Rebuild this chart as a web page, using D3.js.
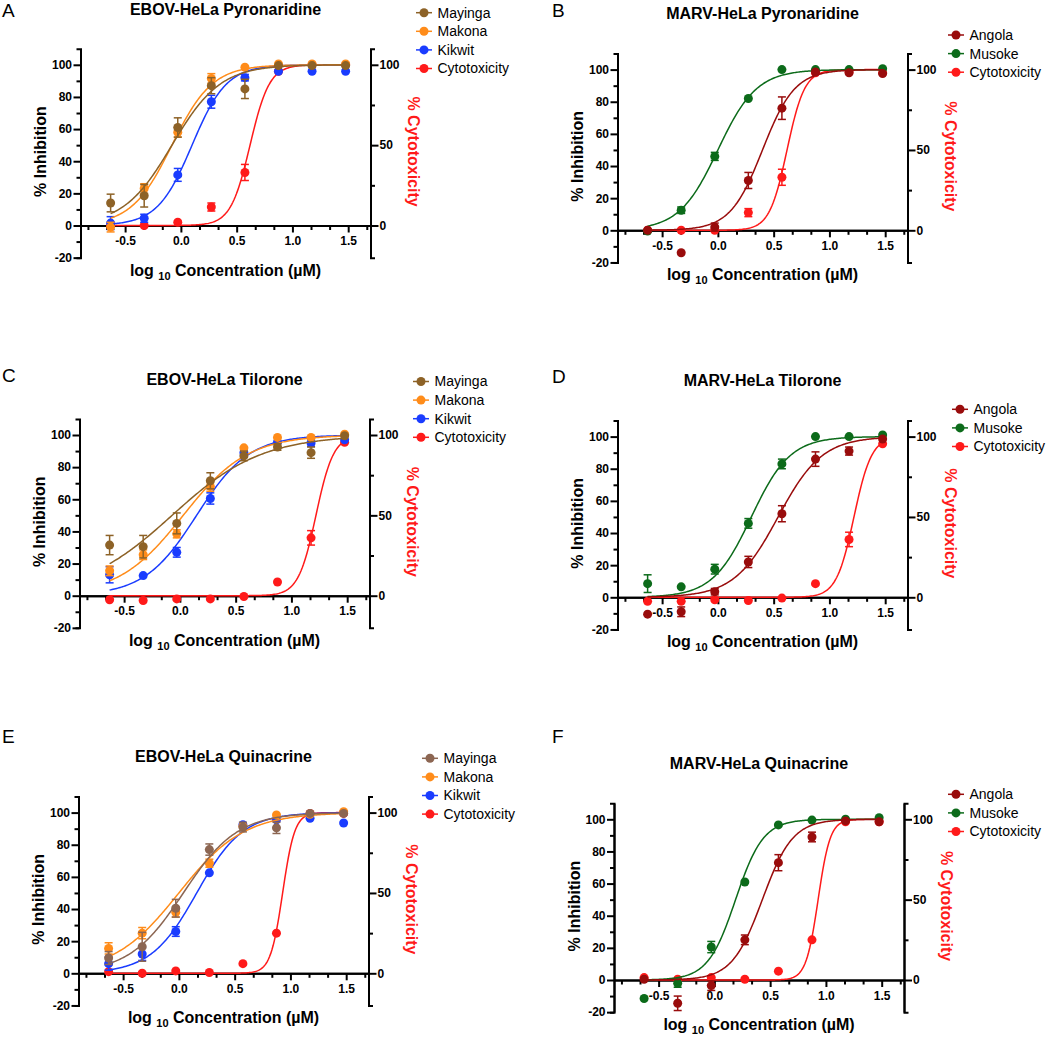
<!DOCTYPE html>
<html>
<head>
<meta charset="utf-8">
<script src="https://cdn.jsdelivr.net/npm/d3@7"></script>
<style>
  body { margin: 0; background: #fff; }
  svg { display: block; }
  text { font-family: "Liberation Sans", Arial, Helvetica, sans-serif; }
</style>
</head>
<body>
<div id="chart"></div>
<script>
// log10 concentration (uM), same dilution series in every panel
var logConc = [-0.630, -0.329, -0.028, 0.273, 0.574, 0.875, 1.176, 1.477];

// ---- A: EBOV-HeLa Pyronaridine
var aMayinga = [14, 18.5, 61, 87, 85, 99.5, 99.5, 99.5];
var aMayingaErr = [5.5, 7, 6, 5, 6, 0, 0, 0];
var aMakona = [-1, 23, 58, 91.5, 98.5, 100.5, 100.5, 100.5];
var aMakonaErr = [3, 3, 3, 3, 0, 0, 0, 0];
var aKikwit = [1.5, 4.5, 31.5, 77, 92, 96, 96, 96];
var aKikwitErr = [4, 2.5, 4, 4, 2, 0, 0, 0];
var aCyto = [0, 0, 2, 11.5, 33, 96, 100, 100];
var aCytoErr = [0, 0, 0, 2.5, 5, 0, 0, 0];
// fitted curves: [logIC50, hill slope]
var aFitMayinga = [-0.08, 2.0], aFitMakona = [-0.08, 2.4], aFitKikwit = [0.10, 2.8], aFitCyto = [0.62, 5.0];

// ---- B: MARV-HeLa Pyronaridine
var bAngola = [0, -14, 2, 31, 76, 98.5, 98, 97.5];
var bAngolaErr = [0, 0, 2.5, 5, 7, 0, 0, 0];
var bMusoke = [-0.5, 12.5, 46, 82, 100, 100, 100, 100.5];
var bMusokeErr = [0, 2, 2.5, 0, 0, 0, 0, 0];
var bCyto = [0, 0, 0, 11, 33, 98, 98.5, 98];
var bCytoErr = [0, 0, 0, 2.5, 5, 0, 0, 0];
var bFitAngola = [0.40, 3.0], bFitMusoke = [0.00, 2.5], bFitCyto = [0.62, 5.5];

// ---- C: EBOV-HeLa Tilorone
var cMayinga = [31.5, 30.5, 45, 71.5, 87, 92.5, 89, 99.5];
var cMayingaErr = [6, 7, 6.5, 5, 3, 2, 3.5, 0];
var cMakona = [15.5, 25.5, 38.5, 68, 92, 98.5, 98.5, 100.5];
var cMakonaErr = [3, 3, 2.5, 3, 0, 0, 0, 0];
var cKikwit = [13, 12.5, 27, 60.5, 89, 95.5, 95, 97];
var cKikwitErr = [5, 0, 3, 3.5, 2, 0, 2, 0];
var cCyto = [-2.5, -3, -2, -2, -0.5, 8.5, 36, 95.5];
var cCytoErr = [0, 0, 0, 0, 0, 0, 4.5, 0];
var cFitMayinga = [-0.07, 1.08], cFitMakona = [0.03, 1.5], cFitKikwit = [0.15, 1.85], cFitCyto = [1.22, 5.5];

// ---- D: MARV-HeLa Tilorone
var dAngola = [-10.5, -9, 3.5, 22, 52, 86, 91, 98.5];
var dAngolaErr = [0, 3, 2, 3.5, 5, 4.5, 2.5, 0];
var dMusoke = [8.5, 6.5, 17.5, 46, 83, 100, 100, 101];
var dMusokeErr = [5.5, 0, 3, 3, 3, 0, 0, 0];
var dCyto = [-2.5, -2.5, -1.5, -2, -0.5, 8.5, 36, 95.5];
var dCytoErr = [0, 0, 0, 0, 0, 0, 4.5, 0];
var dFitAngola = [0.54, 2.2], dFitMusoke = [0.30, 2.5], dFitCyto = [1.22, 5.5];

// ---- E: EBOV-HeLa Quinacrine
var eMayinga = [9.5, 16.5, 40.5, 77, 91, 90.5, 99.5, 99.5];
var eMayingaErr = [4, 9, 5.5, 3.5, 3, 3.5, 0, 0];
var eMakona = [15.5, 25, 38, 68.5, 91.5, 98.5, 99, 100.5];
var eMakonaErr = [3.5, 3.5, 3, 2.5, 0, 0, 0, 0];
var eKikwit = [6, 12, 26, 62.5, 92.5, 95.5, 96.5, 93.5];
var eKikwitErr = [4, 4, 3, 0, 0, 0, 0, 0];
var eCyto = [1, 0, 1.5, 0.5, 6, 25, 99.5, 99.5];
var eCytoErr = [0, 0, 0, 0, 0, 0, 0, 0];
var eFitMayinga = [0.04, 1.79], eFitMakona = [0.00, 1.49], eFitKikwit = [0.16, 2.11], eFitCyto = [0.93, 8.0];

// ---- F: MARV-HeLa Quinacrine
var fAngola = [0.5, -14.5, -3.5, 25, 73, 89, 99, 98.5];
var fAngolaErr = [0, 4.5, 3, 3, 5, 3, 0, 0];
var fMusoke = [-11.5, -2, 20.5, 61, 96.5, 99.5, 100, 101];
var fMusokeErr = [0, 2.5, 3.5, 0, 0, 0, 0, 0];
var fCyto = [1.5, 0.5, 1.5, 0.5, 5.5, 25, 98.5, 98.5];
var fCytoErr = [0, 0, 0, 0, 0, 0, 0, 0];
var fFitAngola = [0.43, 3.2], fFitMusoke = [0.19, 3.5], fFitCyto = [0.93, 8.0];

// colours
var cMay = "#8d6227", cMayQ = "#8c6652", cMak = "#ff8c1a", cKik = "#1a3cff",
    cTox = "#ff1a1a", cAng = "#990c0c", cMus = "#0c6b1a";

var xTicks = [-0.5, 0, 0.5, 1.0, 1.5];
var yTicks = [-20, 0, 20, 40, 60, 80, 100];
var y2Ticks = [0, 50, 100];

var svgWidth = 1050, svgHeight = 1039;
var plotW = 290;      // width of one plot frame
var unit = 1.607;     // px per % on the y axes

var svg = d3.select("#chart").append("svg")
  .attr("width", svgWidth)
  .attr("height", svgHeight);

function s(name, color, v, e, fit) { return {name: name, color: color, v: v, e: e, fit: fit}; }

var panels = [
  {letter: "A", lx: 2, ly: 17, title: "EBOV-HeLa Pyronaridine", left: 80.5, y0: 225.5, legX: 424, legY: 12.7,
   series: [s("Mayinga", cMay, aMayinga, aMayingaErr, aFitMayinga), s("Makona", cMak, aMakona, aMakonaErr, aFitMakona),
            s("Kikwit", cKik, aKikwit, aKikwitErr, aFitKikwit), s("Cytotoxicity", cTox, aCyto, aCytoErr, aFitCyto)]},
  {letter: "B", lx: 552, ly: 17, title: "MARV-HeLa Pyronaridine", left: 617.5, y0: 230.3, legX: 956, legY: 35,
   series: [s("Angola", cAng, bAngola, bAngolaErr, bFitAngola), s("Musoke", cMus, bMusoke, bMusokeErr, bFitMusoke),
            s("Cytotoxicity", cTox, bCyto, bCytoErr, bFitCyto)]},
  {letter: "C", lx: 2, ly: 381.5, title: "EBOV-HeLa Tilorone", left: 79.5, y0: 595.7, legX: 421, legY: 381.5,
   series: [s("Mayinga", cMay, cMayinga, cMayingaErr, cFitMayinga), s("Makona", cMak, cMakona, cMakonaErr, cFitMakona),
            s("Kikwit", cKik, cKikwit, cKikwitErr, cFitKikwit), s("Cytotoxicity", cTox, cCyto, cCytoErr, cFitCyto)]},
  {letter: "D", lx: 552, ly: 382.5, title: "MARV-HeLa Tilorone", left: 617.5, y0: 597.3, legX: 960, legY: 409.3,
   series: [s("Angola", cAng, dAngola, dAngolaErr, dFitAngola), s("Musoke", cMus, dMusoke, dMusokeErr, dFitMusoke),
            s("Cytotoxicity", cTox, dCyto, dCytoErr, dFitCyto)]},
  {letter: "E", lx: 2, ly: 742.5, title: "EBOV-HeLa Quinacrine", left: 78.5, y0: 973.3, legX: 430, legY: 758.3,
   series: [s("Mayinga", cMayQ, eMayinga, eMayingaErr, eFitMayinga), s("Makona", cMak, eMakona, eMakonaErr, eFitMakona),
            s("Kikwit", cKik, eKikwit, eKikwitErr, eFitKikwit), s("Cytotoxicity", cTox, eCyto, eCytoErr, eFitCyto)]},
  {letter: "F", lx: 552, ly: 743, title: "MARV-HeLa Quinacrine", left: 614, y0: 980, legX: 956, legY: 794.3,
   series: [s("Angola", cAng, fAngola, fAngolaErr, fFitAngola), s("Musoke", cMus, fMusoke, fMusokeErr, fFitMusoke),
            s("Cytotoxicity", cTox, fCyto, fCytoErr, fFitCyto)]}
];

// 4PL fit with bottom 0 / top 100
function hill(fit, xv) { return 100 / (1 + Math.pow(10, (fit[0] - xv) * fit[1])); }

function styleAxis(sel) {
  sel.selectAll("path, line").attr("stroke", "#000").attr("stroke-width", 2);
  sel.selectAll("text").attr("fill", "#000").style("font-size", "12px").style("font-weight", "bold");
}

function drawPanel(p) {
  var right = p.left + plotW;
  var x = d3.scaleLinear().domain([-0.9, 1.7]).range([p.left, right]);
  var y = d3.scaleLinear().domain([-20, 110]).range([p.y0 + 20 * unit, p.y0 - 110 * unit]);
  var g = svg.append("g");

  // panel letter + title
  g.append("text").attr("x", p.lx).attr("y", p.ly).style("font-size", "19px").text(p.letter);
  g.append("text").attr("x", p.left + plotW / 2).attr("y", p.y0 - 211)
    .attr("text-anchor", "middle").style("font-size", "16px").style("font-weight", "bold").text(p.title);

  // left axis (major + minor)
  g.append("g").attr("transform", `translate(${p.left},0)`)
    .call(d3.axisLeft(y).tickValues([-10, 10, 30, 50, 70, 90]).tickSize(4).tickFormat(""))
    .call(styleAxis);
  g.append("g").attr("transform", `translate(${p.left},0)`)
    .call(d3.axisLeft(y).tickValues(yTicks).tickSize(7).tickSizeOuter(0).tickPadding(1.5).tickFormat(d => String(d)))
    .call(styleAxis);

  // right axis (% cytotoxicity)
  g.append("g").attr("transform", `translate(${right},0)`)
    .call(d3.axisRight(y).tickValues([25, 75]).tickSize(4.5).tickFormat(""))
    .call(styleAxis);
  g.append("g").attr("transform", `translate(${right},0)`)
    .call(d3.axisRight(y).tickValues(y2Ticks).tickSize(8).tickSizeOuter(0).tickPadding(1).tickFormat(d => String(d)))
    .call(styleAxis);

  // x axis along y = 0
  var minorX = d3.range(-5, 11).filter(i => i % 3 != 0).map(i => i / 6);
  g.append("g").attr("transform", `translate(0,${y(0)})`)
    .call(d3.axisBottom(x).tickValues(minorX).tickSize(4.5).tickSizeOuter(0).tickFormat(""))
    .call(styleAxis);
  g.append("g").attr("transform", `translate(0,${y(0)})`)
    .call(d3.axisBottom(x).tickValues(xTicks).tickSize(7).tickSizeOuter(0).tickPadding(4).tickFormat(d => d.toFixed(1)))
    .call(styleAxis);

  // axis titles
  var yMid = y(46);
  g.append("text").attr("transform", `translate(${p.left - 40},${yMid}) rotate(-90)`)
    .attr("text-anchor", "middle").attr("dy", "0.35em")
    .style("font-size", "16px").style("font-weight", "bold").text("% Inhibition");
  g.append("text").attr("transform", `translate(${right + 43},${yMid}) rotate(90)`)
    .attr("text-anchor", "middle").attr("dy", "0.35em").attr("fill", cTox)
    .style("font-size", "16px").style("font-weight", "bold").text("% Cytotoxicity");
  var xl = g.append("text").attr("x", p.left + plotW / 2).attr("y", p.y0 + 50)
    .attr("text-anchor", "middle").style("font-size", "16px").style("font-weight", "bold");
  xl.append("tspan").text("log ");
  xl.append("tspan").attr("dy", 4).style("font-size", "11px").text("10");
  xl.append("tspan").attr("dy", -4).text(" Concentration (\u00b5M)");

  // series: cytotoxicity drawn first, first legend entry on top
  var line = d3.line().x(d => x(d[0])).y(d => y(d[1]));
  var xs = d3.range(0, 201).map(i => logConc[0] + (logConc[7] - logConc[0]) * i / 200);
  p.series.slice().reverse().forEach(function(sr) {
    var sg = g.append("g");
    sg.append("path").attr("d", line(xs.map(xv => [xv, hill(sr.fit, xv)])))
      .attr("fill", "none").attr("stroke", sr.color).attr("stroke-width", 1.5);
    var pts = logConc.map((c, i) => ({c: c, v: sr.v[i], e: sr.e[i]}));
    var eb = sg.selectAll("g.eb").data(pts.filter(d => d.e > 0)).enter().append("g")
      .attr("stroke", sr.color).attr("stroke-width", 1.5);
    eb.append("line").attr("x1", d => x(d.c)).attr("x2", d => x(d.c))
      .attr("y1", d => y(d.v - d.e)).attr("y2", d => y(d.v + d.e));
    eb.append("line").attr("x1", d => x(d.c) - 4).attr("x2", d => x(d.c) + 4)
      .attr("y1", d => y(d.v + d.e)).attr("y2", d => y(d.v + d.e));
    eb.append("line").attr("x1", d => x(d.c) - 4).attr("x2", d => x(d.c) + 4)
      .attr("y1", d => y(d.v - d.e)).attr("y2", d => y(d.v - d.e));
    sg.selectAll("circle").data(pts).enter().append("circle")
      .attr("cx", d => x(d.c)).attr("cy", d => y(d.v)).attr("r", 4.5).attr("fill", sr.color);
  });

  // legend
  var gap = 18.6;
  p.series.forEach(function(sr, i) {
    var ly = p.legY + i * gap;
    g.append("line").attr("x1", p.legX - 8).attr("x2", p.legX + 8).attr("y1", ly).attr("y2", ly)
      .attr("stroke", sr.color).attr("stroke-width", 1.5);
    g.append("circle").attr("cx", p.legX).attr("cy", ly).attr("r", 4.5).attr("fill", sr.color);
    g.append("text").attr("x", p.legX + 13.5).attr("y", ly).attr("dy", "0.35em")
      .style("font-size", "14px").text(sr.name);
  });
}

panels.forEach(drawPanel);
</script>
</body>
</html>
